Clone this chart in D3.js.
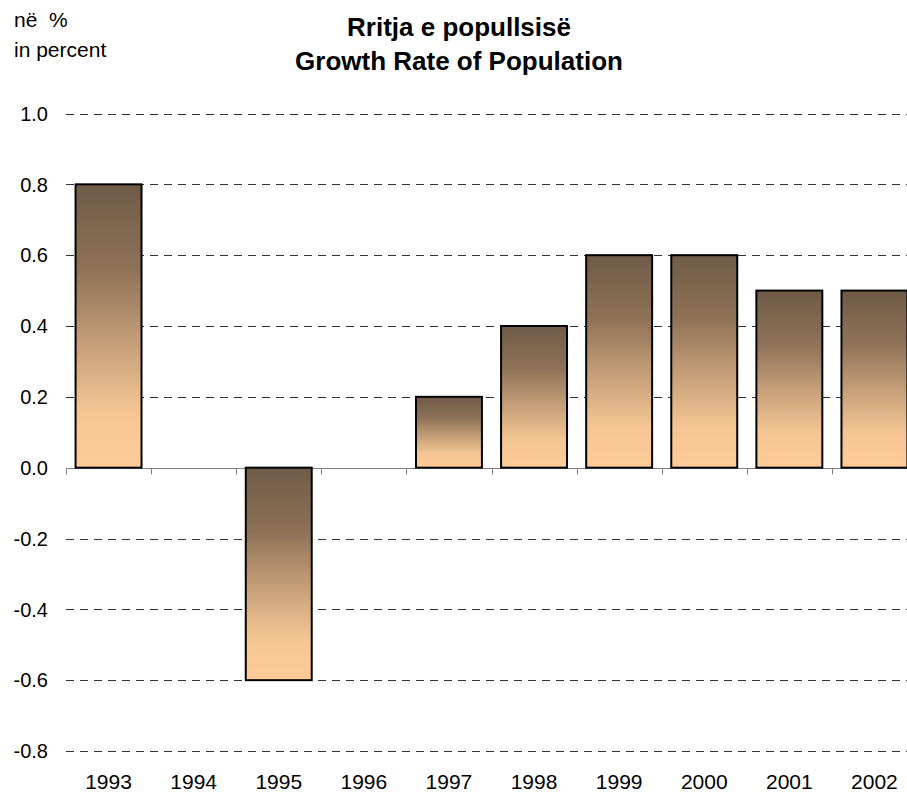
<!DOCTYPE html>
<html>
<head>
<meta charset="utf-8">
<script src="https://cdn.jsdelivr.net/npm/d3@7"></script>
<style>
  body { margin: 0; background: #fff; }
  text { font-family: Arial, "Liberation Sans", sans-serif; fill: #000; }
</style>
</head>
<body>
<div id="main"></div>
<script>
/*********************************************************
 * Data
 *********************************************************/
const years = ['1993', '1994', '1995', '1996', '1997', '1998', '1999', '2000', '2001', '2002'];
const growth = [0.8, 0, -0.6, 0, 0.2, 0.4, 0.6, 0.6, 0.5, 0.5];
const yTicks = [-0.8, -0.6, -0.4, -0.2, 0.0, 0.2, 0.4, 0.6, 0.8, 1.0];
const titleLines = ['Rritja e popullsisë', 'Growth Rate of Population'];
const unitLines = ['në  %', 'in percent'];

/*********************************************************
 * Layout
 *********************************************************/
const svgWidth = 907;
const svgHeight = 794;
const plot = { l: 66, r: 917, t: 113.5, b: 751 };

const svg = d3.select('#main')
  .append('svg')
  .attr('width', svgWidth)
  .attr('height', svgHeight);

const x = d3.scaleBand()
  .domain(years)
  .range([plot.l, plot.r])
  .paddingInner(0.225)
  .paddingOuter(0.1125);

const y = d3.scaleLinear()
  .domain([-0.8, 1.0])
  .range([plot.b, plot.t]);

// gradient used by every bar (dark top, peach bottom)
const grad = svg.append('defs')
  .append('linearGradient')
  .attr('id', 'barFill')
  .attr('x1', 0).attr('y1', 0)
  .attr('x2', 0).attr('y2', 1);
[[0, '#6f5b47'], [0.3, '#8e7258'], [0.55, '#c39d77'], [0.8, '#f4c593'], [1, '#ffcc99']]
  .forEach(s => grad.append('stop').attr('offset', s[0]).attr('stop-color', s[1]));

/*********************************************************
 * Grid + axes
 *********************************************************/
svg.append('g')
  .selectAll('line')
  .data(yTicks.filter(d => d !== 0))
  .enter().append('line')
  .attr('x1', plot.l)
  .attr('x2', svgWidth)
  .attr('y1', d => Math.round(y(d)) + 0.5)
  .attr('y2', d => Math.round(y(d)) + 0.5)
  .attr('stroke', '#333')
  .attr('stroke-dasharray', '8,6');

svg.append('g')
  .selectAll('text')
  .data(yTicks)
  .enter().append('text')
  .attr('x', 48)
  .attr('y', d => y(d))
  .attr('dy', '0.36em')
  .attr('text-anchor', 'end')
  .style('font-size', '20px')
  .text(d => d.toFixed(1));

// zero line with ticks at band edges
const zeroY = Math.round(y(0)) + 0.5;
svg.append('line')
  .attr('x1', plot.l).attr('x2', svgWidth)
  .attr('y1', zeroY).attr('y2', zeroY)
  .attr('stroke', '#808080');

svg.append('g')
  .selectAll('line')
  .data(d3.range(years.length + 1))
  .enter().append('line')
  .attr('x1', i => Math.round(plot.l + i * x.step()) + 0.5)
  .attr('x2', i => Math.round(plot.l + i * x.step()) + 0.5)
  .attr('y1', zeroY)
  .attr('y2', zeroY + 6)
  .attr('stroke', '#808080');

/*********************************************************
 * Bars
 *********************************************************/
svg.append('g')
  .selectAll('rect')
  .data(years.map((yr, i) => ({ year: yr, value: growth[i] })).filter(d => d.value !== 0))
  .enter().append('rect')
  .attr('x', d => x(d.year))
  .attr('y', d => y(Math.max(0, d.value)))
  .attr('width', x.bandwidth())
  .attr('height', d => Math.abs(y(d.value) - y(0)))
  .attr('fill', 'url(#barFill)')
  .attr('stroke', '#000')
  .attr('stroke-width', 2);

svg.append('g')
  .selectAll('text')
  .data(years)
  .enter().append('text')
  .attr('x', d => x(d) + x.bandwidth() / 2)
  .attr('y', 789)
  .attr('text-anchor', 'middle')
  .style('font-size', '21px')
  .text(d => d);

/*********************************************************
 * Titles
 *********************************************************/
svg.append('g')
  .selectAll('text')
  .data(titleLines)
  .enter().append('text')
  .attr('x', 459)
  .attr('y', (d, i) => 36 + i * 34)
  .attr('text-anchor', 'middle')
  .style('font-size', '26px')
  .style('font-weight', 'bold')
  .text(d => d);

svg.append('g')
  .selectAll('text')
  .data(unitLines)
  .enter().append('text')
  .attr('x', 14)
  .attr('y', (d, i) => 27 + i * 30)
  .style('font-size', '21px')
  .style('white-space', 'pre')
  .text(d => d);
</script>
</body>
</html>
